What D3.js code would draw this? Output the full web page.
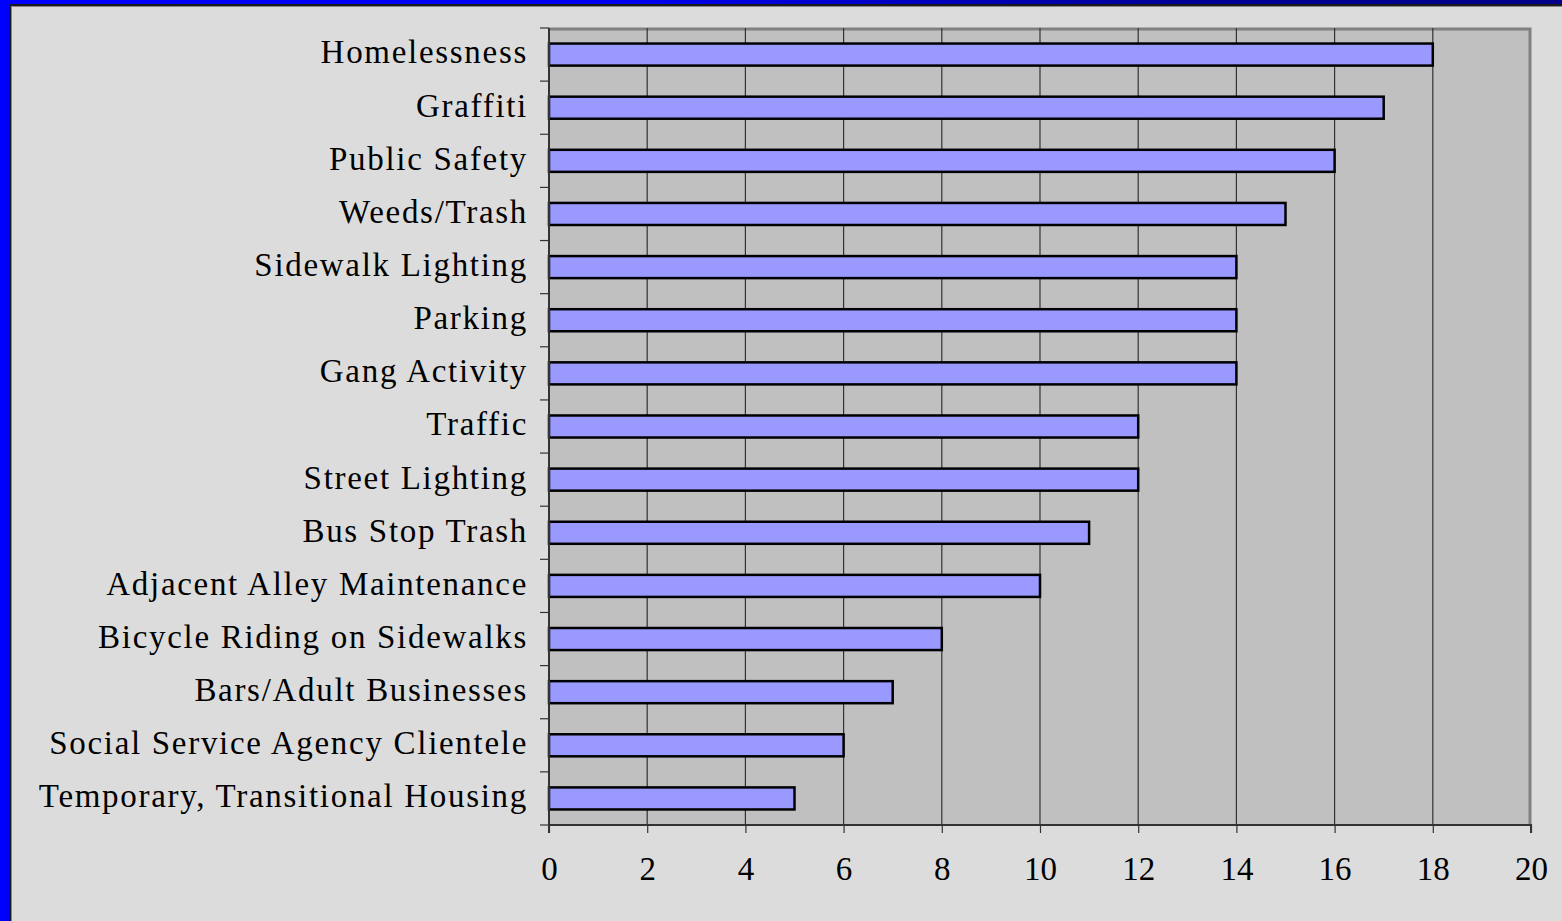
<!DOCTYPE html>
<html>
<head>
<meta charset="utf-8">
<script src="https://cdn.jsdelivr.net/npm/d3@7"></script>
<style>
  html, body { margin: 0; padding: 0; background: #dcdcdc; overflow: hidden; }
  svg { display: block; }
</style>
</head>
<body>
<svg id="chart" width="1562" height="921"></svg>
<script>
const categories = [
  "Homelessness", "Graffiti", "Public Safety", "Weeds/Trash", "Sidewalk Lighting",
  "Parking", "Gang Activity", "Traffic", "Street Lighting", "Bus Stop Trash",
  "Adjacent Alley Maintenance", "Bicycle Riding on Sidewalks", "Bars/Adult Businesses",
  "Social Service Agency Clientele", "Temporary, Transitional Housing"
];
const values = [18, 17, 16, 15, 14, 14, 14, 12, 12, 11, 10, 8, 7, 6, 5];
const xTicks = [0, 2, 4, 6, 8, 10, 12, 14, 16, 18, 20];

const W = 1562, H = 921;
const svg = d3.select("#chart");

// frame
const defs = svg.append("defs");
const grad = defs.append("linearGradient").attr("id", "topgrad").attr("x1", "0").attr("x2", "1");
grad.append("stop").attr("offset", "0").attr("stop-color", "#0000ff");
grad.append("stop").attr("offset", "0.4").attr("stop-color", "#0000f0");
grad.append("stop").attr("offset", "0.75").attr("stop-color", "#000098");
grad.append("stop").attr("offset", "1").attr("stop-color", "#000088");
svg.append("rect").attr("x", 0).attr("y", 0).attr("width", W).attr("height", H).attr("fill", "#dcdcdc");
svg.append("rect").attr("x", 0).attr("y", 0).attr("width", W).attr("height", 4).attr("fill", "url(#topgrad)");
svg.append("rect").attr("x", 0).attr("y", 0).attr("width", 9).attr("height", H).attr("fill", "#0000ff");
svg.append("rect").attr("x", 9).attr("y", 4).attr("width", W - 9).attr("height", 2).attr("fill", "#1a1a1a");
svg.append("rect").attr("x", 9).attr("y", 4).attr("width", 2).attr("height", H - 4).attr("fill", "#1a1a1a");
svg.append("rect").attr("x", 11).attr("y", 6).attr("width", W - 11).attr("height", 1).attr("fill", "#888");
svg.append("rect").attr("x", 11).attr("y", 6).attr("width", 1).attr("height", H - 6).attr("fill", "#888");

const pLeft = 549, pRight = 1531, pTop = 28, pBottom = 825;
const x = d3.scaleLinear().domain([0, 20]).range([pLeft, pRight]);
const y = d3.scaleBand().domain(categories).range([pTop, pBottom]).paddingInner(0.585).paddingOuter(0.2925);

// plot background
svg.append("rect").attr("x", pLeft).attr("y", pTop).attr("width", pRight - pLeft).attr("height", pBottom - pTop)
  .attr("fill", "#c0c0c0");
// top/right border
svg.append("path").attr("d", `M${pLeft},${pTop + 1}H${pRight - 1}V${pBottom}`)
  .attr("fill", "none").attr("stroke", "#808080").attr("stroke-width", 3);

// grid
svg.append("g").selectAll("line").data(xTicks.slice(1, -1)).join("line")
  .attr("x1", d => x(d)).attr("x2", d => x(d)).attr("y1", pTop).attr("y2", pBottom)
  .attr("stroke", "#333").attr("stroke-width", 1.2);

// bars
svg.append("g").selectAll("rect").data(values).join("rect")
  .attr("x", x(0))
  .attr("y", (d, i) => y(categories[i]))
  .attr("width", d => x(d) - x(0))
  .attr("height", y.bandwidth())
  .attr("fill", "#9999ff")
  .attr("stroke", "#000").attr("stroke-width", 2.5);

const font = "'Liberation Serif', 'Times New Roman', serif";

// x axis
const xAxis = svg.append("g").attr("transform", `translate(0,${pBottom})`)
  .call(d3.axisBottom(x).tickValues(xTicks).tickSize(8).tickPadding(24).tickFormat(d3.format("d")));
xAxis.select(".domain").attr("stroke", "#333").attr("stroke-width", 2).attr("d", `M${pLeft},8V0H${pRight}V8`);
xAxis.selectAll(".tick line").attr("stroke", "#333").attr("stroke-width", 1.2);
xAxis.selectAll("text").attr("font-family", font).attr("font-size", 33).attr("fill", "#000");

// y axis with ticks at band boundaries
const boundaries = d3.range(categories.length + 1).map(i => pTop + i * (pBottom - pTop) / categories.length);
const yAxisG = svg.append("g");
yAxisG.append("line").attr("x1", pLeft).attr("x2", pLeft).attr("y1", pTop).attr("y2", pBottom)
  .attr("stroke", "#333").attr("stroke-width", 2);
yAxisG.selectAll("line.t").data(boundaries).join("line").attr("class", "t")
  .attr("x1", pLeft - 9).attr("x2", pLeft).attr("y1", d => d).attr("y2", d => d)
  .attr("stroke", "#333").attr("stroke-width", 1.2);
yAxisG.selectAll("text").data(categories).join("text")
  .attr("x", 528)
  .attr("y", d => y(d) + y.bandwidth() / 2)
  .attr("dy", "0.27em")
  .attr("text-anchor", "end")
  .attr("letter-spacing", 1.7)
  .attr("font-family", font).attr("font-size", 33).attr("fill", "#000")
  .text(d => d);
</script>
</body>
</html>
